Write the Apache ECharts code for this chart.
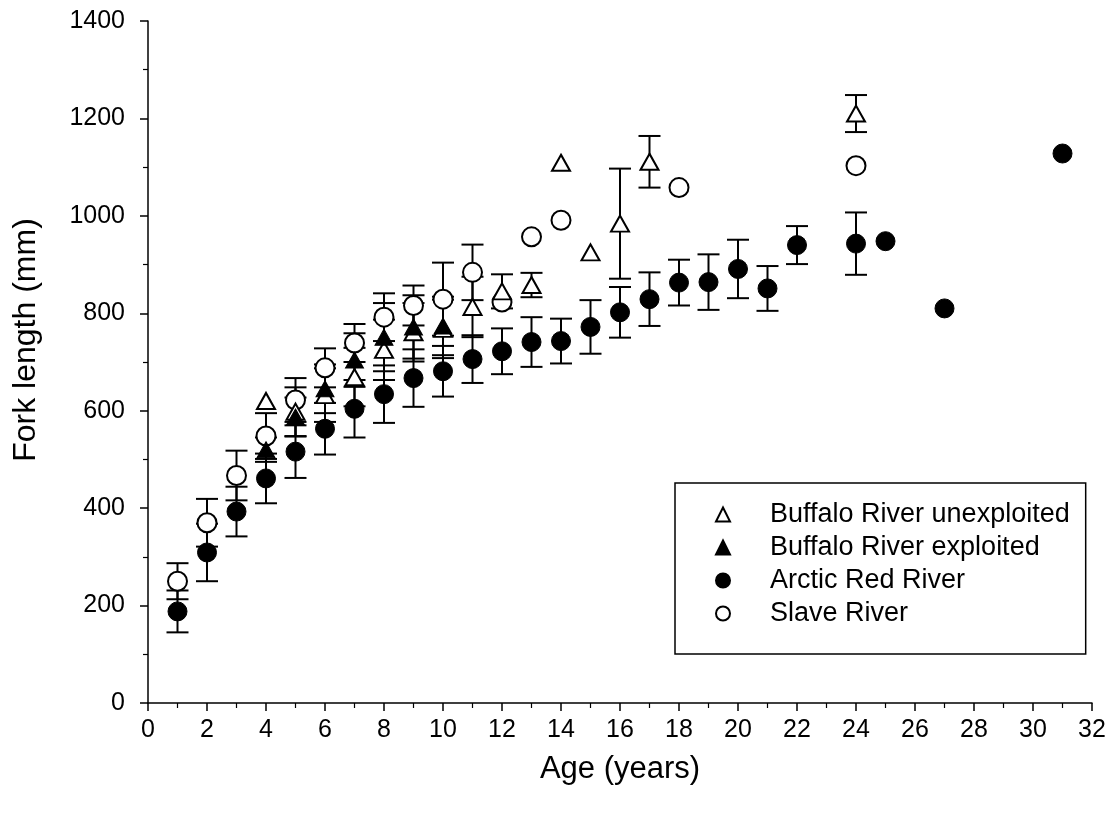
<!DOCTYPE html>
<html>
<head>
<meta charset="utf-8">
<script src="https://cdn.jsdelivr.net/npm/echarts@6/dist/echarts.min.js"></script>
<style>
  html, body { margin: 0; padding: 0; background: #fff; }
  #main { width: 1119px; height: 815px; }
</style>
</head>
<body>
<div id="main"></div>
<script>
// Buffalo River unexploited (open triangles)
const unexpAge = [4, 5, 6, 7, 8, 9, 10, 11, 12, 13, 14, 15, 16, 17, 24];
const unexpLen = [620, 598, 632, 669, 725, 761, 768, 813, 845, 858, 1109, 925, 984, 1111, 1210];
const unexpSd = [0, 50, 55, 60, 62, 60, 60, 62, 35, 25, 0, 0, 113, 53, 38];

// Buffalo River exploited (filled triangles)
const explAge = [4, 5, 6, 7, 8, 9, 10];
const explLen = [520, 587, 645, 704, 751, 772, 774];
const explSd = [25, 40, 50, 55, 70, 65, 60];

// Arctic Red River (filled circles)
const arcticAge = [1, 2, 3, 4, 5, 6, 7, 8, 9, 10, 11, 12, 13, 14, 15, 16, 17, 18, 19, 20, 21, 22, 24, 25, 27, 31];
const arcticLen = [188, 309, 393, 461, 516, 563, 604, 634, 667, 681, 706, 722, 741, 743, 772, 802, 829, 863, 864, 891, 851, 940, 943, 948, 810, 1128];
const arcticSd = [43, 59, 51, 51, 54, 53, 59, 59, 59, 52, 49, 47, 51, 46, 55, 52, 55, 47, 57, 60, 46, 39, 64, 0, 0, 0];

// Slave River (open circles)
const slaveAge = [1, 2, 3, 4, 5, 6, 7, 8, 9, 10, 11, 12, 13, 14, 18, 24];
const slaveLen = [250, 370, 467, 548, 622, 688, 739, 792, 816, 829, 884, 823, 957, 991, 1058, 1103];
const slaveSd = [37, 49, 51, 47, 45, 40, 39, 49, 41, 75, 57, 0, 0, 0, 0, 0];

const names = ["Buffalo River unexploited", "Buffalo River exploited", "Arctic Red River", "Slave River"];
const FONT = "'Liberation Sans', Arial, sans-serif";

function points(ages, lens) {
  return ages.map((a, i) => [a, lens[i]]);
}

function bars(ages, lens, sds) {
  const out = [];
  ages.forEach((a, i) => {
    if (sds[i] > 0) out.push([a, lens[i] - sds[i], lens[i] + sds[i]]);
  });
  return out;
}

// vertical line + caps for each point
function renderBar(params, api) {
  const x = api.value(0);
  const lo = api.coord([x, api.value(1)]);
  const hi = api.coord([x, api.value(2)]);
  const hw = 11;
  const st = { stroke: "#000", lineWidth: 2 };
  return {
    type: "group",
    children: [
      { type: "line", shape: { x1: lo[0], y1: lo[1], x2: hi[0], y2: hi[1] }, style: st },
      { type: "line", shape: { x1: lo[0] - hw, y1: lo[1], x2: lo[0] + hw, y2: lo[1] }, style: st },
      { type: "line", shape: { x1: hi[0] - hw, y1: hi[1], x2: hi[0] + hw, y2: hi[1] }, style: st },
    ],
  };
}

function barSeries(ages, lens, sds) {
  return {
    type: "custom",
    renderItem: renderBar,
    data: bars(ages, lens, sds),
    z: 1,
    silent: true,
    encode: { x: 0, y: [1, 2] },
  };
}

var chartDom = document.getElementById("main");
var myChart = echarts.init(chartDom);

var option = {
  animation: false,
  backgroundColor: "#fff",
  textStyle: { fontFamily: FONT, color: "#000" },
  grid: { left: 148, top: 21, right: 27, bottom: 112 },
  legend: {
    data: names,
    orient: "vertical",
    left: 675,
    top: 483,
    padding: [18, 16, 27, 40],
    itemWidth: 14,
    itemHeight: 14,
    itemGap: 6,
    borderColor: "#000",
    borderWidth: 1.5,
    borderRadius: 0,
    backgroundColor: "#fff",
    textStyle: { fontSize: 27, color: "#000", fontFamily: FONT, lineHeight: 26, padding: [0, 0, 0, 35] },
  },
  xAxis: {
    type: "value",
    min: 0,
    max: 32,
    interval: 2,
    name: "Age (years)",
    nameLocation: "middle",
    nameGap: 51,
    nameTextStyle: { fontSize: 31, color: "#000", fontFamily: FONT },
    axisLine: { show: true, lineStyle: { color: "#000", width: 1.5 } },
    axisTick: { show: true, inside: false, length: 8, lineStyle: { color: "#000", width: 1.5 } },
    minorTick: { show: true, splitNumber: 2, length: 5, lineStyle: { color: "#000", width: 1.2 } },
    splitLine: { show: false },
    axisLabel: { fontSize: 25, color: "#000", margin: 15, fontFamily: FONT },
  },
  yAxis: {
    type: "value",
    min: 0,
    max: 1400,
    interval: 200,
    name: "Fork length (mm)",
    nameLocation: "middle",
    nameGap: 106,
    nameTextStyle: { fontSize: 32, color: "#000", fontFamily: FONT, padding: [0, 0, 0, 44] },
    axisLine: { show: true, lineStyle: { color: "#000", width: 1.5 } },
    axisTick: { show: true, inside: false, length: 8, lineStyle: { color: "#000", width: 1.5 } },
    minorTick: { show: true, splitNumber: 2, length: 5, lineStyle: { color: "#000", width: 1.2 } },
    splitLine: { show: false },
    axisLabel: {
      fontSize: 25,
      color: "#000",
      margin: 23,
      fontFamily: FONT,
      formatter: function (v) {
        return String(v);
      },
    },
  },
  series: [
    barSeries(arcticAge, arcticLen, arcticSd),
    barSeries(slaveAge, slaveLen, slaveSd),
    barSeries(explAge, explLen, explSd),
    barSeries(unexpAge, unexpLen, unexpSd),
    {
      name: names[2],
      type: "scatter",
      symbol: "circle",
      symbolSize: 19,
      z: 2,
      itemStyle: { color: "#000", borderColor: "#000", borderWidth: 1, opacity: 1 },
      data: points(arcticAge, arcticLen),
    },
    {
      name: names[3],
      type: "scatter",
      symbol: "circle",
      symbolSize: 19,
      z: 3,
      itemStyle: { color: "#fff", borderColor: "#000", borderWidth: 2, opacity: 1 },
      data: points(slaveAge, slaveLen),
    },
    {
      name: names[0],
      type: "scatter",
      symbol: "triangle",
      symbolSize: [18, 16],
      z: 4,
      itemStyle: { color: "#fff", borderColor: "#000", borderWidth: 2, opacity: 1 },
      data: points(unexpAge, unexpLen),
    },
    {
      name: names[1],
      type: "scatter",
      symbol: "triangle",
      symbolSize: [18, 16],
      z: 5,
      itemStyle: { color: "#000", borderColor: "#000", borderWidth: 1, opacity: 1 },
      data: points(explAge, explLen),
    },
  ],
};

option && myChart.setOption(option);
</script>
</body>
</html>
